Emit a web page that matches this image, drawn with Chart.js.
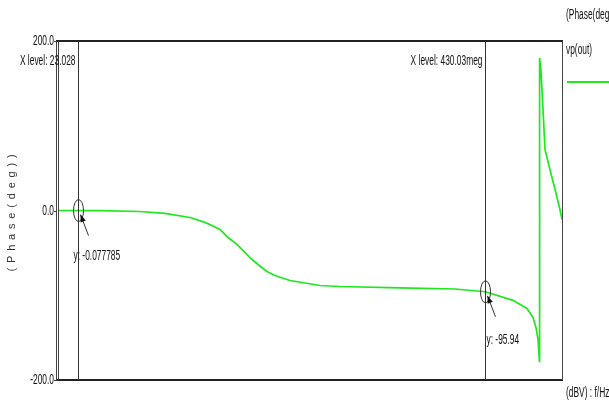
<!DOCTYPE html>
<html lang="en">
<head>
<meta charset="UTF-8">
<title>vp(out) phase</title>
<script src="https://cdn.jsdelivr.net/npm/chart.js"></script>
<style>
  html, body { margin: 0; padding: 0; background: #fff; }
  #wrap { width: 609px; height: 404px; }
</style>
</head>
<body>
<div id="wrap"><canvas id="phaseChart"></canvas></div>
<script>
// values (frequency in Hz, phase in degrees)
const freqHz = [10, 56, 291, 815, 2.28e3, 4.2e3, 5.6e3, 7.8e3, 1.09e4, 1.57e4, 2.1e4, 2.68e4,
  3.72e4, 5.4e4, 7.5e4, 1.39e5, 4.77e5, 1.09e6, 1.28e7, 1.23e8, 4.3e8, 1.33e9, 2.37e9,
  3.03e9, 3.43e9, 3.73e9, 3.96e9, 3.98e9, 4.2e9, 4.58e9, 4.97e9, 6.1e9, 7.5e9, 9.2e9, 1e10];
const phaseDeg = [0, -0.1, -1.2, -3.5, -8.3, -14, -17.7, -22.4, -31.9, -40, -48.4, -55.5,
  -63.7, -72, -76.7, -82.6, -88.5, -89.7, -91.4, -92.6, -95.9, -106, -115.6,
  -126, -138, -152, -178, 180, 166, 119, 72, 48, 25, 1.2, -10.6];
const yTickValues = [-200, 0, 200];
const cursorFreq = [23.028, 430.03e6];
const cursorPhase = [-0.077785, -95.94];
const cursorXLabels = ['X level: 23.028', 'X level: 430.03meg'];
const cursorYLabels = ['y: -0.077785', 'y: -95.94'];
const seriesName = 'vp(out)';
const yTitle = '(Phase(deg))';
const legendTitle = '(Phase(deg))';
const xUnitLabel = '(dBV) : f/Hz';

const FONT = '"Liberation Sans", Arial, sans-serif';
const GREEN = '#1ee81e';

// narrow text, like the original's condensed face
function narrowText(ctx, text, x, y, align) {
    const sx = 0.6;
    ctx.save();
    ctx.font = '14px ' + FONT;
    ctx.textBaseline = 'middle';
    ctx.textAlign = align;
    ctx.translate(x, y);
    ctx.scale(sx, 1);
    ctx.fillText(text, 0, 0);
    ctx.restore();
}

const overlay = {
    id: 'overlay',
    afterDraw(chart) {
        const ctx = chart.ctx;
        const a = chart.chartArea;
        const xs = chart.scales.x, ys = chart.scales.y;
        ctx.save();
        ctx.fillStyle = '#111';

        // frame
        ctx.strokeStyle = '#222';
        ctx.lineWidth = 2;
        ctx.beginPath();
        ctx.moveTo(a.left - 2, a.top); ctx.lineTo(a.right + 1, a.top);
        ctx.moveTo(a.left - 2, a.bottom); ctx.lineTo(a.right + 1, a.bottom);
        ctx.stroke();
        ctx.lineWidth = 1;
        ctx.strokeStyle = '#444';
        ctx.beginPath();
        ctx.moveTo(a.right + 0.5, a.top); ctx.lineTo(a.right + 0.5, a.bottom);
        ctx.moveTo(a.left + 0.5, a.top); ctx.lineTo(a.left + 0.5, a.bottom);
        ctx.moveTo(a.left - 1.5, a.top); ctx.lineTo(a.left - 1.5, a.bottom);
        ctx.stroke();

        // y ticks and labels
        yTickValues.forEach(v => {
            const py = Math.round(ys.getPixelForValue(v)) + 0.5;
            ctx.beginPath();
            ctx.moveTo(a.left - 4, py); ctx.lineTo(a.left - 1, py);
            ctx.stroke();
            narrowText(ctx, v.toFixed(1), a.left - 4, py, 'right');
        });

        // cursors
        cursorFreq.forEach((f, i) => {
            const cx = Math.round(xs.getPixelForValue(f)) + 0.5;
            const cy = ys.getPixelForValue(cursorPhase[i]);
            ctx.strokeStyle = '#333';
            ctx.lineWidth = 1;
            ctx.beginPath();
            ctx.moveTo(cx, a.top); ctx.lineTo(cx, a.bottom);
            ctx.stroke();

            narrowText(ctx, cursorXLabels[i], cx - 3, a.top + 20, 'right');

            // marker ellipse
            ctx.beginPath();
            ctx.ellipse(cx, cy, 5, 11, 0, 0, Math.PI * 2);
            ctx.stroke();

            // arrow
            const tx = cx + 10, ty = cy + 25, hx = cx + 2, hy = cy + 4;
            ctx.beginPath();
            ctx.moveTo(tx, ty); ctx.lineTo(hx, hy);
            ctx.stroke();
            const ang = Math.atan2(hy - ty, hx - tx);
            ctx.beginPath();
            ctx.moveTo(hx, hy);
            ctx.lineTo(hx - 8 * Math.cos(ang - 0.35), hy - 8 * Math.sin(ang - 0.35));
            ctx.lineTo(hx - 8 * Math.cos(ang + 0.35), hy - 8 * Math.sin(ang + 0.35));
            ctx.closePath();
            ctx.fill();

            narrowText(ctx, cursorYLabels[i], i === 0 ? cx - 5 : cx + 1, cy + (i === 0 ? 46 : 48), 'left');
        });

        // legend on the right
        narrowText(ctx, legendTitle, a.right + 4, 15, 'left');
        narrowText(ctx, seriesName, a.right + 4, 50, 'left');
        narrowText(ctx, xUnitLabel, a.right + 4, 393, 'left');
        ctx.strokeStyle = GREEN;
        ctx.lineWidth = 2;
        ctx.beginPath();
        ctx.moveTo(a.right + 5, 82); ctx.lineTo(609, 82);
        ctx.stroke();

        // rotated, spaced y title
        ctx.translate(12, (a.top + a.bottom) / 2);
        ctx.rotate(-Math.PI / 2);
        ctx.font = '11px ' + FONT;
        ctx.fillStyle = '#333';
        ctx.textAlign = 'left';
        ctx.textBaseline = 'middle';
        const gap = 4.8;
        let total = 0;
        for (const ch of yTitle) total += ctx.measureText(ch).width + gap;
        let px = -total / 2;
        for (const ch of yTitle) {
            ctx.fillText(ch, px, 0);
            px += ctx.measureText(ch).width + gap;
        }
        ctx.restore();
    }
};

new Chart(document.getElementById('phaseChart'), {
    type: 'line',
    data: {
        datasets: [{
            label: seriesName,
            data: freqHz.map((f, i) => ({ x: f, y: phaseDeg[i] })),
            borderColor: GREEN,
            borderWidth: 1.7,
            pointRadius: 0,
            tension: 0,
            fill: false
        }]
    },
    options: {
        responsive: true,
        maintainAspectRatio: false,
        animation: false,
        devicePixelRatio: 1,
        layout: { padding: { left: 58, top: 41, right: 47, bottom: 24 } },
        plugins: { legend: { display: false }, tooltip: { enabled: false } },
        scales: {
            x: { type: 'logarithmic', min: 10, max: 1e10, display: false },
            y: { min: -200, max: 200, display: false }
        }
    },
    plugins: [overlay]
});
</script>
</body>
</html>
